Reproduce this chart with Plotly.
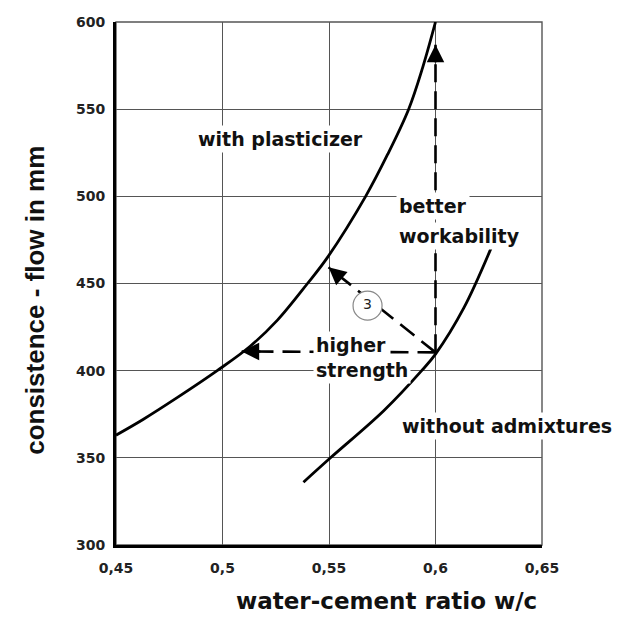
import plotly.graph_objects as go

# ---- data ----
plasticizer_wc = [0.45, 0.4627, 0.4787, 0.4975, 0.513, 0.5258, 0.5399, 0.5493, 0.5672, 0.5775, 0.5874, 0.594, 0.6]
plasticizer_flow = [363, 372, 384.5, 400, 414, 429, 450, 465, 500, 524, 550, 574, 600]

plain_wc = [0.538, 0.5507, 0.5757, 0.5935, 0.6, 0.6133, 0.626]
plain_flow = [336, 350, 377, 400, 409.5, 436, 470]

x_ticks = [0.45, 0.5, 0.55, 0.6, 0.65]
x_tick_labels = ["0,45", "0,5", "0,55", "0,6", "0,65"]
y_ticks = [300, 350, 400, 450, 500, 550, 600]

# dashed arrows: common origin and three end points (tips)
origin_pt = (0.6, 410.5)
tip_up = (0.6, 587)
tip_left = (0.509, 411.0)
tip_diag = (0.5498, 459.3)
# arrow tails (just behind the tips, to orient the heads)
tail_up = (0.6, 576)
tail_left = (0.5185, 411.0)
tail_diag = (0.5539, 455.0)

marker3_pos = (0.5681, 437.3)

labels = [
    ("with plasticizer", 0.4872, 533.0),
    ("better", 0.5813, 494.7),
    ("workability", 0.5813, 477.2),
    ("higher", 0.5427, 414.5),
    ("strength", 0.5427, 400.5),
    ("without admixtures", 0.5827, 368.0),
]

x_title = "water-cement ratio w/c"
y_title = "consistence - flow in mm"

fig = go.Figure()

fig.add_trace(go.Scatter(x=plasticizer_wc, y=plasticizer_flow, mode="lines",
                         line=dict(color="black", width=2.8, shape="spline", smoothing=1),
                         hoverinfo="skip", showlegend=False))
fig.add_trace(go.Scatter(x=plain_wc, y=plain_flow, mode="lines",
                         line=dict(color="black", width=2.8, shape="spline", smoothing=1),
                         hoverinfo="skip", showlegend=False))

for tip in (tip_up, tip_left, tip_diag):
    fig.add_trace(go.Scatter(x=[origin_pt[0], tip[0]], y=[origin_pt[1], tip[1]], mode="lines",
                             line=dict(color="black", width=2.6, dash="18px,9px"),
                             hoverinfo="skip", showlegend=False))

fig.add_trace(go.Scatter(x=[marker3_pos[0]], y=[marker3_pos[1]], mode="markers+text",
                         marker=dict(size=29, color="white", line=dict(color="#888", width=1.2)),
                         text=["3"], textposition="middle center",
                         textfont=dict(family="DejaVu Sans", size=14, color="#222"),
                         hoverinfo="skip", showlegend=False))

annotations = []
for tip, tail in ((tip_up, tail_up), (tip_left, tail_left), (tip_diag, tail_diag)):
    annotations.append(dict(x=tip[0], y=tip[1], ax=tail[0], ay=tail[1], xref="x", yref="y",
                            axref="x", ayref="y", text="", showarrow=True, arrowhead=2,
                            arrowsize=1.4, arrowwidth=2.5, arrowcolor="black", standoff=0))
for txt, lx, ly in labels:
    annotations.append(dict(x=lx, y=ly, xref="x", yref="y", text=txt, showarrow=False,
                            xanchor="left", yanchor="middle", bgcolor="white", borderpad=2,
                            font=dict(family="DejaVu Sans", size=19, color="#111", weight="bold")))

annotations.append(dict(x=0.636, y=-0.107, xref="paper", yref="paper", text=x_title,
                        showarrow=False, xanchor="center", yanchor="middle",
                        font=dict(family="DejaVu Sans", size=23, color="#111", weight="bold")))
annotations.append(dict(x=-0.19, y=0.467, xref="paper", yref="paper", text=y_title,
                        showarrow=False, xanchor="center", yanchor="middle", textangle=-90,
                        font=dict(family="Liberation Sans", size=26, color="#111", weight="bold")))

fig.update_layout(
    width=617, height=612,
    margin=dict(l=108, r=83, t=6, b=75),
    paper_bgcolor="white", plot_bgcolor="white",
    annotations=annotations,
    shapes=[dict(type="rect", xref="paper", yref="paper", x0=0, x1=1, y0=0, y1=1,
                 line=dict(color="#555", width=1.4), layer="below")],
    xaxis=dict(range=[0.45, 0.65], tickvals=x_ticks, ticktext=x_tick_labels,
               showgrid=True, gridcolor="#555", gridwidth=1.4, zeroline=False,
               showline=True, linecolor="black", linewidth=3,
               ticks="outside", ticklen=8, tickcolor="rgba(0,0,0,0)",
               ticklabeloverflow="allow",
               tickfont=dict(family="DejaVu Sans", size=14, color="#222", weight="bold")),
    yaxis=dict(range=[300, 600], tickvals=y_ticks,
               showgrid=True, gridcolor="#555", gridwidth=1.4, zeroline=False,
               showline=True, linecolor="black", linewidth=3,
               ticks="outside", ticklen=5, tickcolor="rgba(0,0,0,0)",
               ticklabeloverflow="allow",
               tickfont=dict(family="DejaVu Sans", size=14, color="#222", weight="bold")),
)

fig.write_html("out.html")
